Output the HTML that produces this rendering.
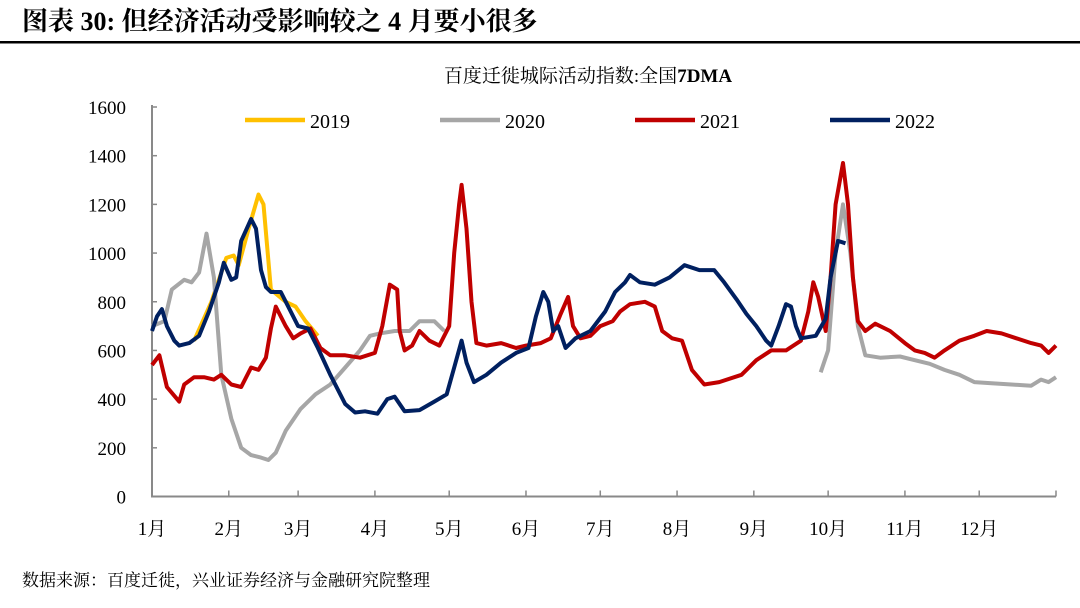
<!DOCTYPE html>
<html><head><meta charset="utf-8"><style>
body{margin:0;background:#fff;width:1080px;height:603px;overflow:hidden;font-family:"Liberation Serif","Noto Serif CJK SC",serif}
</style></head><body>
<svg id="c" width="1080" height="603" xmlns="http://www.w3.org/2000/svg">
<text x="22" y="30" font-size="26" font-weight="bold" font-family="'Liberation Serif','Noto Serif CJK SC',serif">图表 30:  但经济活动受影响较之 4 月要小很多</text>
<rect x="0" y="41" width="1080" height="2.5" fill="#000"/>
<text x="588" y="82" font-size="19" text-anchor="middle" font-family="'Liberation Serif','Noto Serif CJK SC',serif">百度迁徙城际活动指数:全国<tspan font-weight="bold">7DMA</tspan></text>
<text x="22" y="586" font-size="17" font-family="'Liberation Serif','Noto Serif CJK SC',serif">数据来源：百度迁徙，兴业证券经济与金融研究院整理</text>
<g id="plot"></g>
</svg>
<script>
const monthLabels=["1月","2月","3月","4月","5月","6月","7月","8月","9月","10月","11月","12月"];
const monthStartDays=[0,31,59,90,120,151,181,212,243,273,304,334];
const yTicks=[0,200,400,600,800,1000,1200,1400,1600];
const seriesNames=["2019","2020","2021","2022"];
const d2019=[17,24,30,33,35,39,43,45,48,54,58,62,67];
const v2019=[640,800,980,990,950,1100,1240,1200,850,800,780,720,660];
const d2020=[0,5,8,13,16,19,22,25,28,32,36,40,44,47,50,54,60,66,72,78,84,88,92,98,104,108,114,118,null,270,273,276,279,282,285,288,294,302,308,314,320,326,332,339,347,355,359,362,365];
const v2020=[700,720,850,890,880,920,1080,900,500,320,200,170,160,150,180,270,360,420,460,530,600,660,670,680,680,720,720,680,null,510,600,1000,1200,1000,700,580,570,575,560,545,520,500,470,465,460,455,480,470,490];
const d2021=[0,3,6,11,13,17,21,25,28,32,36,40,43,46,48,50,54,57,60,64,68,72,78,84,90,93,96,99,100,102,105,108,112,116,120,122,124,125,127,129,131,135,141,147,151,157,161,165,168,170,173,177,181,186,189,193,199,203,206,210,214,218,223,229,238,244,250,256,262,265,267,269,272,274,276,279,281,283,285,288,292,298,304,308,312,316,320,326,332,337,343,349,355,359,362,365];
const v2021=[540,580,450,390,460,490,490,480,500,460,450,530,520,570,690,780,700,650,670,690,610,580,580,570,590,700,870,850,680,600,620,680,640,620,700,1000,1200,1280,1100,800,630,620,630,610,620,630,650,750,820,700,650,660,700,720,760,790,800,780,680,650,640,520,460,470,500,560,600,600,640,760,880,820,680,900,1200,1370,1200,900,720,680,710,680,630,600,590,570,600,640,660,680,670,650,630,620,590,620];
const d2022=[0,2,4,6,9,11,15,19,23,27,29,32,34,36,40,42,44,46,48,52,56,59,63,67,72,78,82,86,91,95,98,102,108,114,119,122,125,127,130,135,141,147,152,155,158,160,162,164,167,171,177,183,187,191,193,197,203,209,215,221,227,231,236,240,244,248,250,253,256,258,260,262,268,272,274,277,280];
const v2022=[680,740,770,700,640,620,630,660,760,880,960,890,900,1050,1140,1100,930,860,840,840,760,700,690,610,500,380,345,350,340,400,410,350,355,390,420,530,640,550,470,500,550,590,610,740,840,800,680,700,610,650,680,760,840,880,910,880,870,900,950,930,930,880,810,750,700,640,620,700,790,780,700,650,660,730,900,1050,1040];
const colors=["#FFC000","#A6A6A6","#C00000","#002060"];
const X0=152,X1=1056,Y0=496.5,Y1=107;
const xs=d=>X0+d*(X1-X0)/365;
const ys=v=>Y0-v*(Y0-Y1)/1600;
const NS="http://www.w3.org/2000/svg";
const plot=document.getElementById('plot');
function mk(t,a){const e=document.createElementNS(NS,t);for(const k in a)e.setAttribute(k,a[k]);plot.appendChild(e);return e;}
let ax=mk('line',{x1:X0,y1:Y1-2,x2:X0,y2:Y0,stroke:'#898989','stroke-width':2});


let bx=mk('line',{x1:X0-1,y1:Y0,x2:X1,y2:Y0,stroke:'#898989','stroke-width':2});


yTicks.forEach(v=>{
 const tk=mk('line',{x1:X0,x2:X0+5,y1:ys(v),y2:ys(v),stroke:'#898989','stroke-width':1.5});
 
 
 const t=mk('text',{x:126,y:ys(v)+7,'font-size':19,'text-anchor':'end'});
 t.textContent=v;
 
 
});
monthStartDays.forEach((d,i)=>{
 if(i>0){const tk=mk('line',{x1:xs(d),x2:xs(d),y1:Y0,y2:Y0-6,stroke:'#898989','stroke-width':1.5});
 
 }
 const t=mk('text',{x:xs(d),y:535,'font-size':19,'text-anchor':'middle'});
 t.textContent=monthLabels[i];
 
 
});
const tk2=mk('line',{x1:X1,x2:X1,y1:Y0,y2:Y0-6,stroke:'#898989','stroke-width':1.5});


function path(ds,vs){let s='',pen=false;for(let i=0;i<ds.length;i++){if(ds[i]===null){pen=false;continue;}s+=(pen?'L':'M')+xs(ds[i]).toFixed(1)+','+ys(vs[i]).toFixed(1);pen=true;}return s;}
const all=[[d2019,v2019],[d2020,v2020],[d2021,v2021],[d2022,v2022]];
all.forEach((s,i)=>{
 const p=mk('path',{d:path(s[0],s[1]),fill:'none',stroke:colors[i],'stroke-width':4,'stroke-linejoin':'round'});
 
 
});
const legX=[245,440,635,830];
seriesNames.forEach((n,i)=>{
 const l=mk('line',{x1:legX[i],x2:legX[i]+60,y1:120,y2:120,stroke:colors[i],'stroke-width':4.5});
 
 
 const t=mk('text',{x:legX[i]+65,y:128,'font-size':20});
 t.textContent=n;
 
 
});
</script>
</body></html>
